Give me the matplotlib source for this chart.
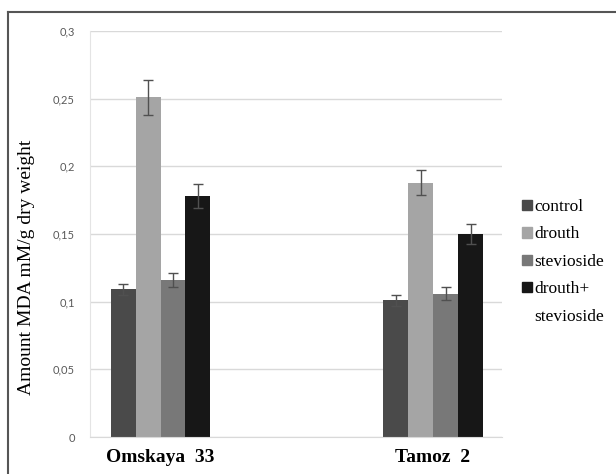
import numpy as np
import matplotlib.pyplot as plt
from matplotlib.patches import Rectangle
from matplotlib.lines import Line2D

# Data
varieties = ["Omskaya  33", "Tamoz  2"]
treatments = ["control", "drouth", "stevioside", "drouth+"]
colors = ["#4a4a4a", "#a5a5a5", "#787878", "#171717"]

control = [0.109, 0.101]
drouth = [0.251, 0.188]
stevioside = [0.116, 0.106]
drouth_stev = [0.178, 0.150]

control_err = [0.004, 0.004]
drouth_err = [0.013, 0.009]
stevioside_err = [0.005, 0.005]
drouth_stev_err = [0.009, 0.0075]

yticks = [0, 0.05, 0.1, 0.15, 0.2, 0.25, 0.3]
ytick_labels = ["0", "0,05", "0,1", "0,15", "0,2", "0,25", "0,3"]

serif = "Liberation Serif"

fig = plt.figure(figsize=(6.16, 4.74), dpi=100)
ax = fig.add_axes([90 / 616, 1 - 437 / 474, 412 / 616, 406 / 474])

x = np.arange(len(varieties))
w = 0.0917
series = [control, drouth, stevioside, drouth_stev]
errs = [control_err, drouth_err, stevioside_err, drouth_stev_err]

handles = []
for i, (vals, err, c) in enumerate(zip(series, errs, colors)):
    pos = x + (i - 1.5) * w
    ax.bar(pos, vals, width=w, color=c, zorder=2)
    ax.errorbar(pos, vals, yerr=err, fmt="none", ecolor="#505050",
                elinewidth=1, capsize=3.5, capthick=1, zorder=3)
    handles.append(Rectangle((0, 0), 1, 1, color=c))

ax.set_xlim(-0.2587, 1.253)
ax.set_ylim(0, 0.3)
ax.set_yticks(yticks)
ax.set_yticklabels(ytick_labels, fontsize=8, color="#595959", family="Lato")
ax.set_xticks(x)
ax.set_xticklabels(varieties, fontsize=14, fontweight="bold", family=serif)
ax.tick_params(axis="y", length=0, pad=11)
ax.tick_params(axis="x", length=0, pad=9)

ax.grid(axis="y", color="#d9d9d9", linewidth=1, zorder=0)
ax.set_axisbelow(True)
for s in ["top", "right"]:
    ax.spines[s].set_visible(False)
ax.spines["left"].set_color("#e4e4e4")
ax.spines["bottom"].set_color("#d9d9d9")

fig.text(27 / 616, 1 - 267 / 474, "Amount MDA mM/g dry weight", rotation=90,
         ha="center", va="center", fontsize=14, family=serif)

# legend, last label wraps onto a second line
handles.append(Rectangle((0, 0), 1, 1, color="none"))
labels = treatments + ["stevioside"]
ax.legend(handles, labels, loc="upper left",
          bbox_to_anchor=(522 / 616, 1 - 199 / 474),
          bbox_transform=fig.transFigure, frameon=False,
          prop={"family": serif, "size": 12.5},
          handlelength=0.55, handleheight=0.55, handletextpad=0.15,
          labelspacing=0.66, borderaxespad=0, borderpad=0)

# outer frame of the figure
fig.add_artist(Line2D([8 / 616, 1], [1 - 12 / 474, 1 - 12 / 474],
                      transform=fig.transFigure, color="#555555", lw=1.5))
fig.add_artist(Line2D([8 / 616, 8 / 616], [0, 1 - 12 / 474],
                      transform=fig.transFigure, color="#555555", lw=1.5))

fig.savefig("out.png", dpi=100)
